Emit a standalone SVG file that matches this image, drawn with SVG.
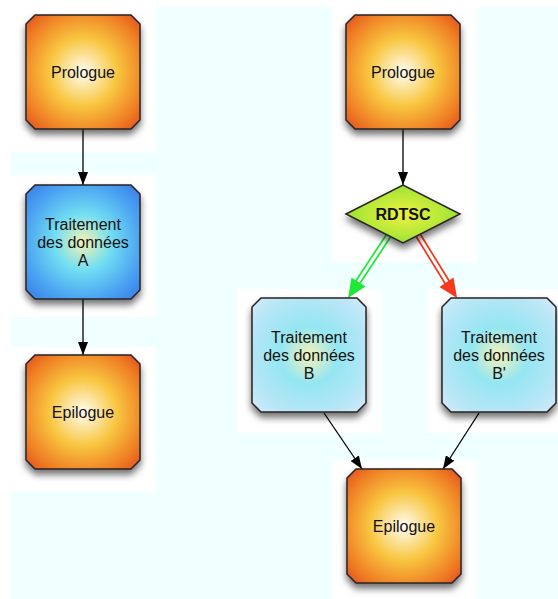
<svg xmlns="http://www.w3.org/2000/svg" width="558" height="599" viewBox="0 0 558 599">
<style>
.bg-c{fill:#f0ffff}
.bg-w{fill:#ffffff}
.box{stroke:#2a2320;stroke-width:1.5;filter:url(#sh)}
.t{font-family:"Liberation Sans",Arial,Helvetica,sans-serif;font-size:16px;fill:#111;text-anchor:middle}
.tb{font-weight:bold}
.conn{stroke:#000;stroke-width:1.3;fill:none}
</style>
<defs>
<filter id="sh" x="-20%" y="-20%" width="140%" height="150%">
<feDropShadow dx="0" dy="5" stdDeviation="3.5" flood-color="#000" flood-opacity="0.55"/>
</filter>
<radialGradient id="gO" cx="50%" cy="50%" r="71%">
<stop offset="0" stop-color="#fffdf2"/>
<stop offset="0.42" stop-color="#f8c640"/>
<stop offset="0.78" stop-color="#ef7d24"/>
<stop offset="1" stop-color="#de4a1e"/>
</radialGradient>
<radialGradient id="gA" cx="50%" cy="50%" r="71%">
<stop offset="0" stop-color="#f6f2b0"/>
<stop offset="0.35" stop-color="#72def2"/>
<stop offset="0.72" stop-color="#4aa2f2"/>
<stop offset="1" stop-color="#3878e6"/>
</radialGradient>
<radialGradient id="gB" cx="50%" cy="50%" r="71%">
<stop offset="0" stop-color="#f6f2b8"/>
<stop offset="0.35" stop-color="#94e6f2"/>
<stop offset="0.75" stop-color="#b8e6f6"/>
<stop offset="1" stop-color="#d6ecfa"/>
</radialGradient>
<radialGradient id="gD" cx="50%" cy="50%" r="60%">
<stop offset="0" stop-color="#eef040"/>
<stop offset="0.6" stop-color="#b4e838"/>
<stop offset="1" stop-color="#80de2a"/>
</radialGradient>
<marker id="ah" viewBox="0 0 13 10" refX="13" refY="5" markerWidth="13" markerHeight="10" markerUnits="userSpaceOnUse" orient="auto">
<path d="M0,0 L13,5 L0,10 Z" fill="#000"/>
</marker>
</defs>

<g id="background">
<rect width="558" height="599" class="bg-w"/>
<rect x="11" y="7" width="547" height="592" class="bg-c"/>
<rect x="11" y="7" width="145" height="145" class="bg-w"/>
<rect x="11" y="175" width="145" height="142" class="bg-w"/>
<rect x="11" y="347" width="145" height="145" class="bg-w"/>
<rect x="332" y="7" width="145" height="255" class="bg-w"/>
<rect x="237" y="289" width="145" height="144" class="bg-w"/>
<rect x="427" y="289" width="131" height="144" class="bg-w"/>
<rect x="332" y="460" width="145" height="139" class="bg-w"/>
</g>

<g id="connectors">
<line class="conn" x1="83" y1="129" x2="83" y2="185" marker-end="url(#ah)"/>
<line class="conn" x1="83" y1="299" x2="83" y2="355" marker-end="url(#ah)"/>
<line class="conn" x1="403" y1="129" x2="403" y2="185" marker-end="url(#ah)"/>
<line class="conn" x1="324" y1="413" x2="362" y2="469" marker-end="url(#ah)"/>
<line class="conn" x1="479" y1="413" x2="443" y2="469" marker-end="url(#ah)"/>
<g id="edge-green">
<line x1="389" y1="235" x2="358" y2="282" stroke="#1ee838" stroke-width="6.5" stroke-linecap="round"/>
<line x1="389" y1="235" x2="358" y2="282" stroke="#ffffff" stroke-width="3" stroke-linecap="round"/>
<polygon points="348,298 351.5,277.5 365.5,286.5" fill="#1ee838"/>
</g>
<g id="edge-red">
<line x1="418" y1="235" x2="447" y2="282" stroke="#f43a1a" stroke-width="6.5" stroke-linecap="round"/>
<line x1="418" y1="235" x2="447" y2="282" stroke="#ffffff" stroke-width="3" stroke-linecap="round"/>
<polygon points="457,298 439.5,287 453.5,277.5" fill="#f43a1a"/>
</g>
</g>

<g id="prologue-left" transform="translate(26,15)">
<polygon class="box" fill="url(#gO)" points="9,0 105,0 114,9 114,105 105,114 9,114 0,105 0,9"/>
<text class="t" x="57" y="63">Prologue</text>
</g>
<g id="traitement-a" transform="translate(26,185)">
<polygon class="box" fill="url(#gA)" points="9,0 105,0 114,9 114,105 105,114 9,114 0,105 0,9"/>
<text class="t" x="57" y="45">Traitement</text>
<text class="t" x="57" y="63">des données</text>
<text class="t" x="57" y="81">A</text>
</g>
<g id="epilogue-left" transform="translate(26,355)">
<polygon class="box" fill="url(#gO)" points="9,0 105,0 114,9 114,105 105,114 9,114 0,105 0,9"/>
<text class="t" x="57" y="63">Epilogue</text>
</g>
<g id="prologue-right" transform="translate(346,15)">
<polygon class="box" fill="url(#gO)" points="9,0 105,0 114,9 114,105 105,114 9,114 0,105 0,9"/>
<text class="t" x="57" y="63">Prologue</text>
</g>
<g id="rdtsc">
<polygon class="box" fill="url(#gD)" points="346,214 403,185 460,214 403,243"/>
<text class="t tb" x="403" y="220">RDTSC</text>
</g>
<g id="traitement-b" transform="translate(252,298)">
<polygon class="box" fill="url(#gB)" points="9,0 105,0 114,9 114,105 105,114 9,114 0,105 0,9"/>
<text class="t" x="57" y="45">Traitement</text>
<text class="t" x="57" y="63">des données</text>
<text class="t" x="57" y="81">B</text>
</g>
<g id="traitement-b-prime" transform="translate(442,298)">
<polygon class="box" fill="url(#gB)" points="9,0 105,0 114,9 114,105 105,114 9,114 0,105 0,9"/>
<text class="t" x="57" y="45">Traitement</text>
<text class="t" x="57" y="63">des données</text>
<text class="t" x="57" y="81">B'</text>
</g>
<g id="epilogue-right" transform="translate(347,469)">
<polygon class="box" fill="url(#gO)" points="9,0 105,0 114,9 114,105 105,114 9,114 0,105 0,9"/>
<text class="t" x="57" y="63">Epilogue</text>
</g>
</svg>
